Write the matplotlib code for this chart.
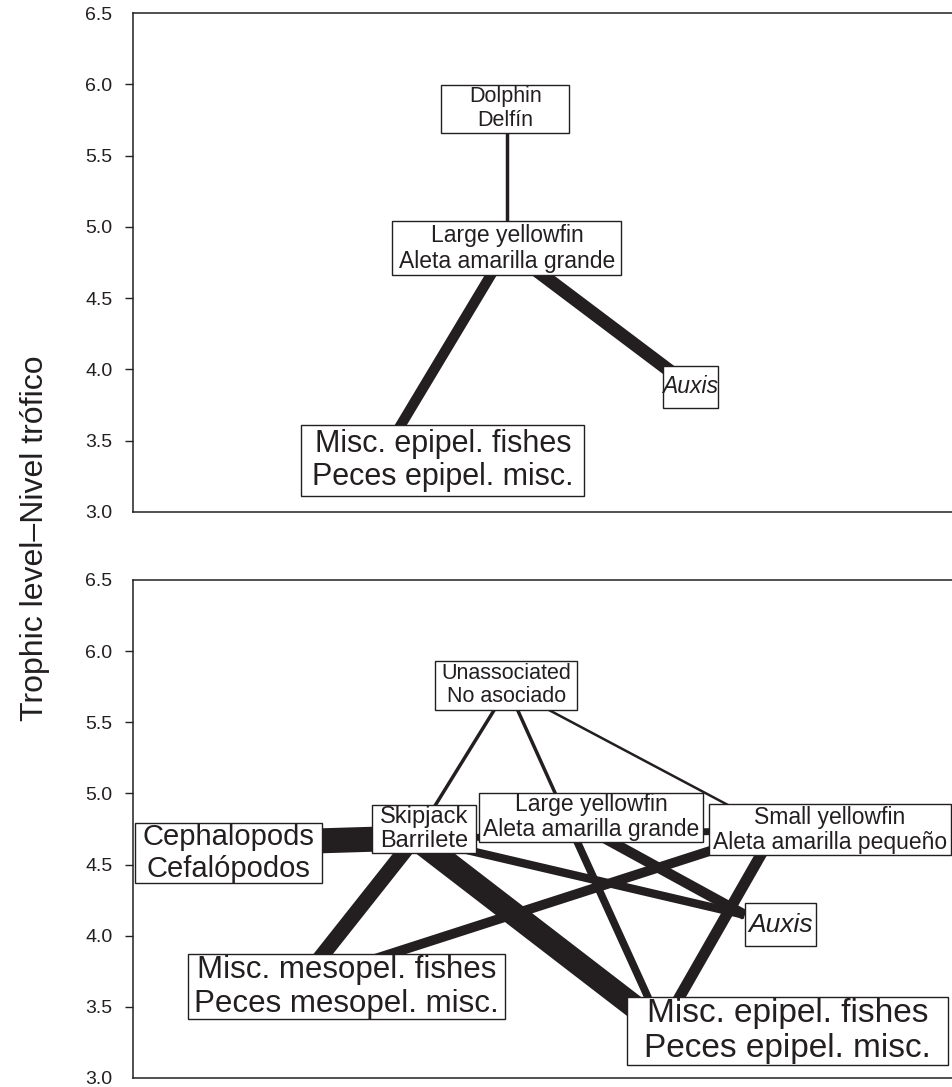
import matplotlib
matplotlib.use("Agg")
import numpy as np
import matplotlib.pyplot as plt
from matplotlib.patches import Rectangle

plt.rcParams['font.family'] = ['Liberation Sans', 'DejaVu Sans']

INK = '#231f20'

# --- top panel: floating-object sets
top_labels = ["Dolphin\nDelfín", "Large yellowfin\nAleta amarilla grande", "Auxis",
              "Misc. epipel. fishes\nPeces epipel. misc."]
top_x = [45.6, 45.6, 68.0, 31.3]
top_tl = [5.83, 4.85, 3.88, 3.48]
top_label_x = [45.4, 45.6, 68.0, 37.8]
top_label_tl = [5.83, 4.85, 3.88, 3.36]
top_edges = [(0, 1), (1, 2), (1, 3)]
top_edge_w = [2.5, 9.5, 7.5]

# --- bottom panel: unassociated sets
bot_labels = ["Unassociated\nNo asociado", "Skipjack\nBarrilete",
              "Large yellowfin\nAleta amarilla grande", "Small yellowfin\nAleta amarilla pequeño",
              "Cephalopods\nCefalópodos", "Auxis",
              "Misc. mesopel. fishes\nPeces mesopel. misc.", "Misc. epipel. fishes\nPeces epipel. misc."]
bot_x = [45.7, 34.4, 52.8, 78.3, 14.3, 74.6, 20.4, 64.5]
bot_tl = [5.74, 4.687, 4.834, 4.743, 4.652, 4.146, 3.668, 3.352]
bot_label_x = [45.5, 35.5, 55.9, 85.0, 11.6, 79.0, 26.0, 79.8]
bot_label_tl = [5.76, 4.75, 4.834, 4.743, 4.582, 4.076, 3.640, 3.331]
bot_edges = [(0, 1), (0, 2), (0, 3), (4, 1), (4, 3), (1, 6), (1, 7), (1, 5),
             (2, 5), (2, 7), (3, 7), (3, 6)]
bot_edge_w = [2.5, 2.5, 1.8, 18, 5, 11, 17, 6, 7.5, 5.5, 8, 7]

# label box styling (pixels) and fonts
top_box = [(128, 48), (229, 54), (55, 42), (283, 71)]
top_fs = [15.5, 16.5, 16.5, 22]
top_it = [False, False, True, False]
bot_box = [(142, 49), (104, 48), (224, 49), (243, 51), (187, 60), (71, 43), (317, 65), (321, 68)]
bot_fs = [15.5, 17, 16.5, 16.5, 21, 19, 22.5, 24]
bot_it = [False, False, False, False, False, True, False, False]

W, H = 953, 1087
fig = plt.figure(figsize=(W / 100, H / 100), dpi=100)
ax1 = fig.add_axes([133 / W, 1 - 512 / H, 820 / W, 499 / H])
ax2 = fig.add_axes([133 / W, 1 - 1078 / H, 820 / W, 498 / H])

ticks = np.arange(3.0, 6.51, 0.5)


def draw(ax, labels, xs, tls, lxs, ltls, edges, widths, boxes, fss, its, hpx):
    ax.set_xlim(0, 100)
    ax.set_ylim(3.0, 6.5)
    for (a, b), w in zip(edges, widths):
        ax.plot([xs[a], xs[b]], [tls[a], tls[b]], color=INK, lw=w,
                solid_capstyle='butt', zorder=2)
    sx = 100 / 820
    sy = 3.5 / hpx
    for lab, lx, lt, (bw, bh), fs, it in zip(labels, lxs, ltls, boxes, fss, its):
        ax.add_patch(Rectangle((lx - bw * sx / 2, lt - bh * sy / 2), bw * sx, bh * sy,
                               facecolor='white', edgecolor=INK, lw=1.0, zorder=3))
        ax.text(lx, lt, lab, ha='center', va='center', fontsize=fs, color=INK,
                style='italic' if it else 'normal', linespacing=1.15, zorder=4)
    ax.set_xticks([])
    ax.set_yticks(ticks)
    ax.set_yticklabels([f"{t:.1f}" for t in ticks])
    ax.tick_params(axis='y', direction='out', length=5.8, width=1.0, pad=9,
                   labelsize=14, colors=INK)
    yt = ax.yaxis.get_major_ticks()
    yt[0].tick1line.set_visible(False)
    yt[-1].tick1line.set_visible(False)
    ax.spines['right'].set_visible(False)
    for s in ['left', 'top', 'bottom']:
        ax.spines[s].set_linewidth(1.1)
        ax.spines[s].set_color(INK)


draw(ax1, top_labels, top_x, top_tl, top_label_x, top_label_tl, top_edges, top_edge_w,
     top_box, top_fs, top_it, 499)
draw(ax2, bot_labels, bot_x, bot_tl, bot_label_x, bot_label_tl, bot_edges, bot_edge_w,
     bot_box, bot_fs, bot_it, 498)

fig.text(35 / W, 1 - 538 / H, "Trophic level–Nivel trófico", rotation=90,
         ha='center', va='center', fontsize=23, color=INK)

fig.savefig("out.png", dpi=100)
